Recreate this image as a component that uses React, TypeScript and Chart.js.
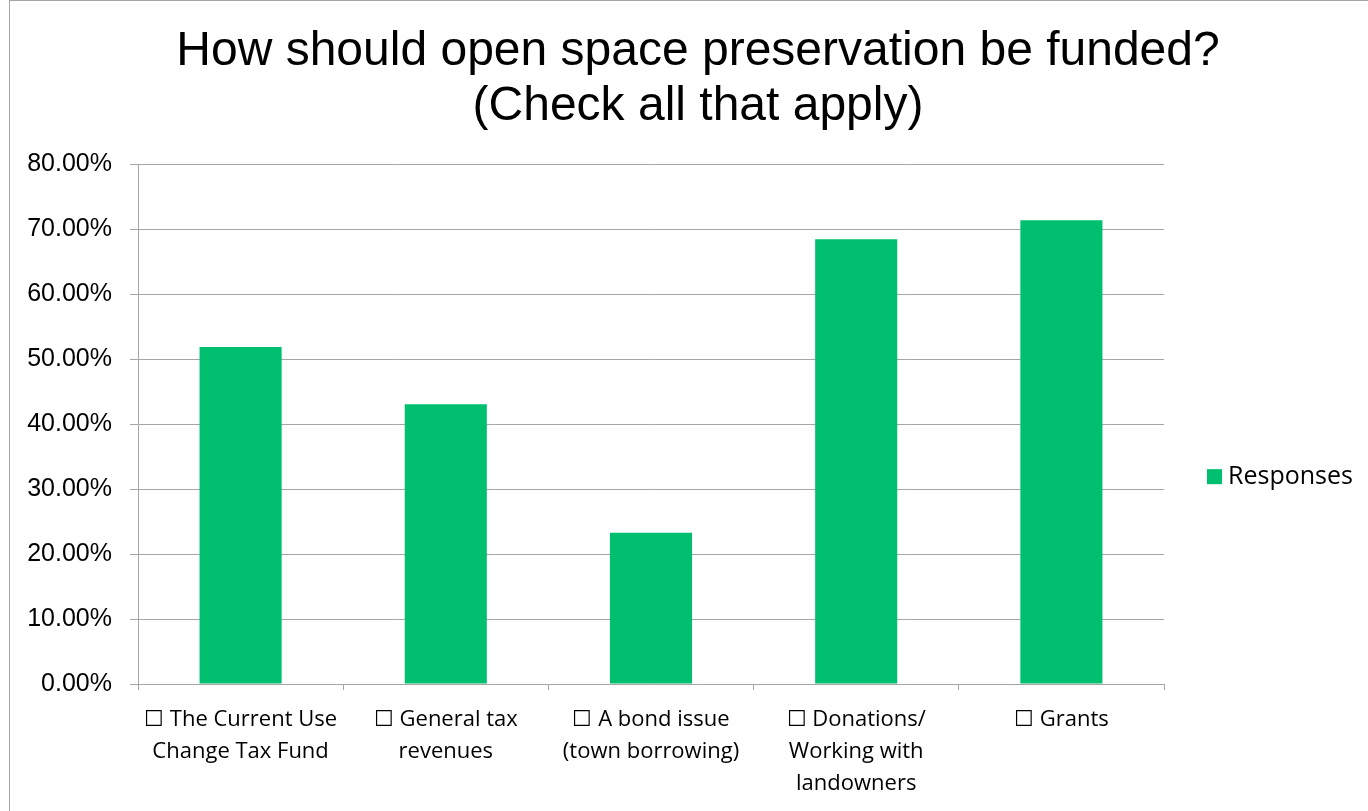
import React, { useEffect, useRef } from "react";
import { Chart, registerables } from "chart.js";

Chart.register(...registerables);

const TITLE_LINES = ["How should open space preservation be funded?", "(Check all that apply)"];
const CATEGORIES: string[][] = [
  ["\u2610 The Current Use", "Change Tax Fund"],
  ["\u2610 General tax", "revenues"],
  ["\u2610 A bond issue", "(town borrowing)"],
  ["\u2610 Donations/", "Working with", "landowners"],
  ["\u2610 Grants"],
];
const SERIES_LABEL = "Responses";
const RESPONSES = [51.9, 43.08, 23.3, 68.46, 71.4];
const Y_MIN = 0;
const Y_MAX = 80;
const Y_STEP = 10;

const BAR_COLOR = "#00BF6F";
const GRID_COLOR = "#a6a6a6";

const titleCenterPlugin = {
  id: "titleCenter",
  afterLayout(chart: any) {
    const t = chart.titleBlock;
    if (t) {
      t.left = 0;
      t.right = chart.width;
      t.width = chart.width;
    }
  },
};

const legendPlugin = {
  id: "sideLegend",
  afterDraw(chart: any) {
    const { ctx, chartArea } = chart;
    const ds = chart.data.datasets[0];
    const x = chartArea.right + 43;
    const y = chartArea.top + chartArea.height * 0.6;
    ctx.save();
    ctx.fillStyle = ds.backgroundColor;
    ctx.fillRect(x, y - 7, 15, 15);
    ctx.fillStyle = "#000";
    ctx.font = "25px 'Open Sans'";
    ctx.textBaseline = "middle";
    ctx.textAlign = "left";
    ctx.fillText(ds.label, x + 21, y + 1);
    ctx.restore();
  },
};

export default function App() {
  const ref = useRef<HTMLCanvasElement | null>(null);
  useEffect(() => {
    if (!ref.current) return;
    const chart = new Chart(ref.current, {
      type: "bar",
      data: {
        labels: CATEGORIES,
        datasets: [
          {
            label: SERIES_LABEL,
            data: RESPONSES,
            backgroundColor: BAR_COLOR,
            borderWidth: 0,
            categoryPercentage: 1,
            barPercentage: 0.4,
          },
        ],
      },
      options: {
        animation: false,
        responsive: false,
        maintainAspectRatio: false,
        layout: { padding: { left: 0, right: 222, top: 0, bottom: 0 } },
        plugins: {
          legend: { display: false },
          tooltip: { enabled: false },
          title: {
            display: true,
            text: TITLE_LINES,
            color: "#000",
            font: { family: "'Liberation Sans', Arial, sans-serif", size: 48, weight: "normal", lineHeight: 1.15 },
            padding: { top: 23, bottom: 30 },
          },
        },
        scales: {
          x: {
            offset: true,
            grid: {
              display: true,
              drawOnChartArea: false,
              drawTicks: true,
              tickLength: 6,
              color: GRID_COLOR,
              offset: true,
            },
            border: { display: true, color: GRID_COLOR },
            ticks: {
              color: "#000",
              autoSkip: false,
              maxRotation: 0,
              minRotation: 0,
              padding: 14,
              font: { family: "'Open Sans', sans-serif", size: 22, lineHeight: 1.45 },
            },
            afterFit(scale: any) {
              scale.height = 127;
            },
          },
          y: {
            min: Y_MIN,
            max: Y_MAX,
            grid: { color: GRID_COLOR, tickLength: 8, drawTicks: true },
            border: { display: true, color: GRID_COLOR },
            ticks: {
              stepSize: Y_STEP,
              color: "#000",
              padding: 18,
              font: { family: "'Liberation Sans', Arial, sans-serif", size: 25 },
              callback: (v: any) => Number(v).toFixed(2) + "%",
            },
            afterFit(scale: any) {
              scale.width = 128;
            },
          },
        },
      },
      plugins: [titleCenterPlugin, legendPlugin],
    });
    return () => chart.destroy();
  }, []);

  return (
    <div style={{ position: "absolute", left: 0, top: 0, width: 1368, height: 811, overflow: "hidden", background: "#fff" }}>
      <div
        style={{
          position: "absolute",
          left: 9,
          top: 0,
          width: 1376,
          height: 810,
          borderLeft: "1px solid #a6a6a6",
          borderTop: "1px solid #a6a6a6",
        }}
      >
        <canvas ref={ref} width={1376} height={810} style={{ display: "block", width: 1376, height: 810 }} />
      </div>
    </div>
  );
}
